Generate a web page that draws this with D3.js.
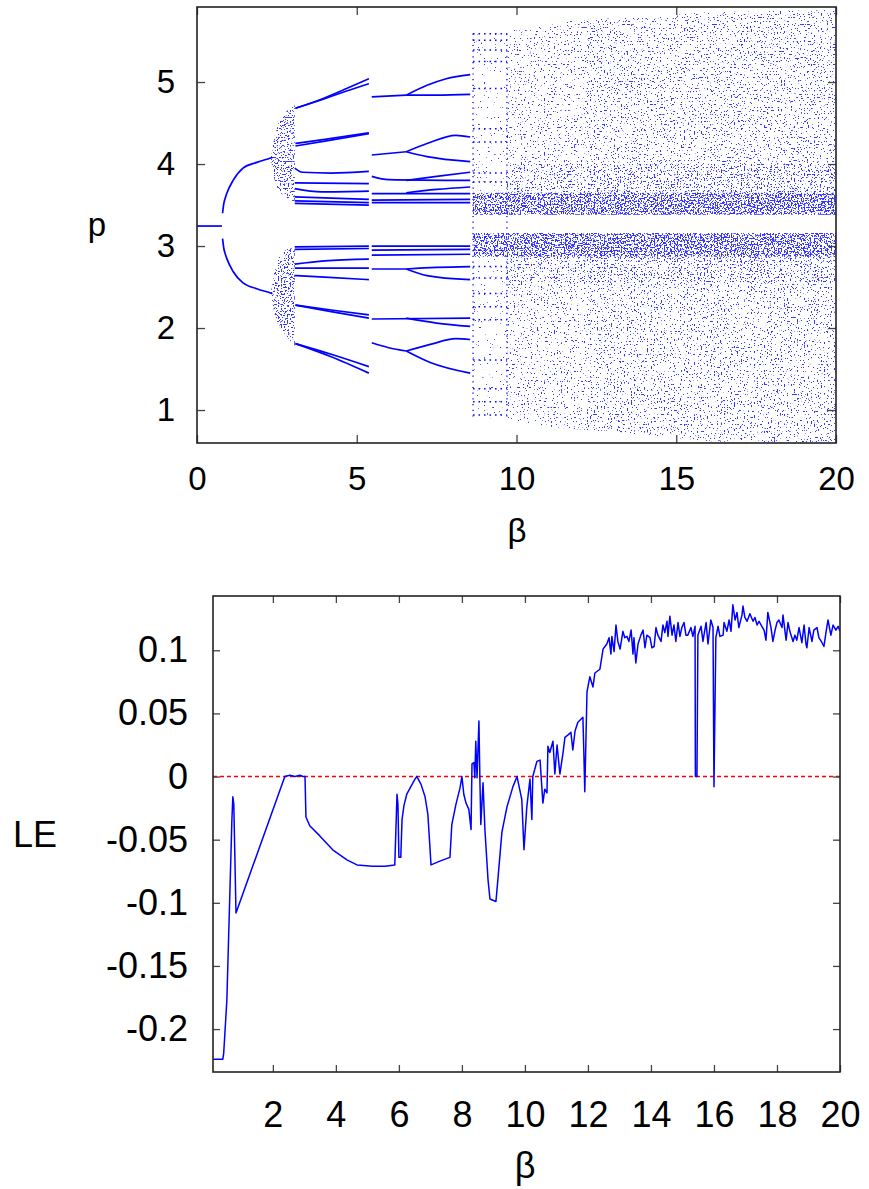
<!DOCTYPE html>
<html><head><meta charset="utf-8">
<script src="https://cdn.jsdelivr.net/npm/d3@7"></script>
<style>
body{margin:0;background:#fff;}
svg{display:block;font-family:"Liberation Sans",Arial,Helvetica,sans-serif;}
</style></head><body>
<svg id="chart" width="869" height="1189"></svg>
<script>
// ---------------- DATA ----------------
const bifXTicks = [0, 5, 10, 15, 20];
const bifYTicks = [1, 2, 3, 4, 5];
const leXTicks = [2, 4, 6, 8, 10, 12, 14, 16, 18, 20];
const leYTicks = [-0.2, -0.15, -0.1, -0.05, 0, 0.05, 0.1];
const leYTickLabels = ["-0.2", "-0.15", "-0.1", "-0.05", "0", "0.05", "0.1"];

// periodic branches of the bifurcation diagram: [beta, p]
const branches = [
  [[0,3.244],[0.78,3.244]],
  [[0.80,3.40],[0.84,3.52],[0.88,3.58],[0.94,3.65],[1.13,3.80],[1.44,3.95],[1.87,4.02],[2.28,4.07],[2.36,4.08]],
  [[0.80,3.09],[0.84,2.97],[0.88,2.91],[0.94,2.84],[1.13,2.69],[1.44,2.55],[1.87,2.48],[2.28,2.43],[2.36,2.42]],
  [[3.08,4.68],[3.95,4.80],[4.68,4.92],[5.38,5.04]],
  [[3.08,4.68],[3.95,4.79],[4.68,4.89],[5.38,4.98]],
  [[3.08,4.25],[4.0,4.30],[5.38,4.38]],
  [[3.08,4.22],[4.0,4.28],[5.38,4.37]],
  [[3.06,3.95],[3.3,3.90],[4.2,3.89],[5.38,3.91]],
  [[3.06,3.77],[5.38,3.76]],
  [[3.06,3.70],[3.9,3.66],[5.38,3.67]],
  [[3.06,3.60],[5.38,3.57]],
  [[3.06,3.55],[5.38,3.53]],
  [[3.06,3.52],[5.38,3.50]],
  [[3.06,2.99],[5.38,3.00]],
  [[3.06,2.96],[5.38,2.97]],
  [[3.06,2.78],[4.0,2.82],[5.38,2.84]],
  [[3.06,2.73],[5.38,2.73]],
  [[3.06,2.64],[4.0,2.62],[5.38,2.59]],
  [[3.08,2.28],[4.2,2.22],[5.38,2.16]],
  [[3.08,2.28],[4.2,2.20],[5.38,2.12]],
  [[3.08,1.81],[4.2,1.68],[5.38,1.53]],
  [[3.08,1.81],[4.2,1.65],[5.38,1.45]],
  [[5.47,4.82],[6.55,4.84]],
  [[6.55,4.84],[7.2,4.96],[7.8,5.04],[8.55,5.09]],
  [[6.55,4.84],[7.5,4.84],[8.55,4.85]],
  [[5.47,4.11],[6.55,4.15]],
  [[6.55,4.15],[7.2,4.25],[8.1,4.35],[8.55,4.33]],
  [[6.55,4.15],[7.2,4.09],[8.55,4.03]],
  [[5.47,3.85],[6.0,3.81],[8.55,3.80]],
  [[6.55,3.80],[7.5,3.85],[8.55,3.90]],
  [[5.47,3.64],[8.55,3.64]],
  [[6.55,3.65],[7.5,3.69],[8.55,3.72]],
  [[5.47,3.56],[8.55,3.57]],
  [[5.47,3.53],[8.55,3.53]],
  [[5.47,3.00],[8.55,3.00]],
  [[5.47,2.95],[8.55,2.96]],
  [[5.47,2.89],[8.55,2.90]],
  [[5.47,2.72],[6.55,2.72]],
  [[6.55,2.72],[7.5,2.74],[8.55,2.75]],
  [[6.55,2.72],[7.2,2.64],[8.55,2.59]],
  [[5.47,2.11],[8.55,2.12]],
  [[6.55,2.12],[7.5,2.06],[8.55,2.02]],
  [[5.47,1.82],[6.0,1.76],[6.55,1.72]],
  [[6.55,1.72],[7.3,1.80],[8.1,1.87],[8.55,1.86]],
  [[6.55,1.72],[7.3,1.58],[8.55,1.45]]
];

// chaotic regions: upper and lower edges [beta, p] and the share of the area covered by points
const clouds = [
  {density:0.25, top:[[2.32,4.09],[2.42,4.33],[2.55,4.5],[2.8,4.65],[3.06,4.72]], bottom:[[2.32,4.04],[2.42,3.82],[2.55,3.67],[2.8,3.58],[3.06,3.54]]},
  {density:0.25, top:[[2.32,2.45],[2.42,2.68],[2.55,2.86],[2.8,2.96],[3.06,2.98]], bottom:[[2.32,2.40],[2.42,2.18],[2.55,2.03],[2.8,1.9],[3.06,1.78]]},
  {density:0.03, top:[[8.64,5.6],[9.7,5.62]], bottom:[[8.64,3.38],[9.7,3.38]]},
  {density:0.03, top:[[8.64,3.16],[9.7,3.16]], bottom:[[8.64,0.92],[9.7,0.88]]},
  {density:0.07, top:[[9.7,5.62],[10.6,5.68],[11,5.72],[12.2,5.76]], bottom:[[9.7,3.38],[12.2,3.38]]},
  {density:0.07, top:[[9.7,3.16],[12.2,3.16]], bottom:[[9.7,0.88],[10.6,0.83],[11,0.8],[12.2,0.75]]},
  {density:0.10, top:[[12.2,5.76],[14,5.8],[16,5.85],[20,5.88]], bottom:[[12.2,3.38],[20,3.38]]},
  {density:0.10, top:[[12.2,3.16],[20,3.16]], bottom:[[12.2,0.75],[14,0.7],[16,0.62],[18,0.6],[20,0.6]]},
  {density:0.40, top:[[8.64,3.65],[20,3.65]], bottom:[[8.64,3.38],[20,3.38]]},
  {density:0.40, top:[[8.64,3.16],[20,3.16]], bottom:[[8.64,2.87],[20,2.87]]},
  {density:0.08, top:[[9.7,4.0],[20,4.0]], bottom:[[9.7,3.65],[20,3.65]]},
  {density:0.08, top:[[9.7,2.87],[20,2.87]], bottom:[[9.7,2.55],[20,2.55]]}
];

// periodic window (beta 8.64 - 9.70): orbit values p
const windowSpan = [8.64, 9.70];
const windowLines = [5.59,5.51,5.39,5.25,4.92,4.43,4.27,3.89,3.78,3.60,3.44,3.11,2.95,2.75,2.61,2.42,2.26,2.10,1.61,1.26,1.10,0.94];
const windowEdgeRange = [0.92, 5.6];

// Lyapunov exponent: [beta, LE]
const lyapunov = [
[0.10,-0.224],[0.41,-0.224],[0.44,-0.219],[0.54,-0.177],[0.63,-0.097],[0.70,-0.034],[0.73,-0.016],[0.76,-0.022],[0.83,-0.108],
[2.38,0.000],[2.54,0.001],[2.70,0.000],[2.86,0.001],[2.95,0.000],[3.02,0.000],[3.05,-0.032],[3.17,-0.039],[3.49,-0.047],
[3.90,-0.058],[4.35,-0.066],[4.67,-0.070],[5.17,-0.071],[5.56,-0.071],[5.87,-0.070],[5.94,-0.014],[5.97,-0.022],[6.00,-0.064],
[6.06,-0.064],[6.10,-0.034],[6.16,-0.023],[6.25,-0.014],[6.38,-0.008],[6.51,-0.002],[6.57,0.000],[6.70,-0.006],[6.83,-0.016],
[6.92,-0.030],[7.02,-0.070],[7.30,-0.067],[7.62,-0.064],[7.68,-0.038],[7.81,-0.022],[7.94,-0.009],[8.00,0.000],[8.06,-0.014],
[8.13,-0.021],[8.22,-0.026],[8.29,-0.042],[8.32,0.010],[8.38,0.011],[8.41,-0.001],[8.44,0.028],[8.48,-0.001],[8.54,0.044],
[8.57,-0.001],[8.60,-0.038],[8.67,-0.005],[8.73,-0.042],[8.83,-0.082],[8.89,-0.097],[9.08,-0.099],[9.14,-0.082],[9.27,-0.044],
[9.43,-0.024],[9.62,-0.008],[9.75,0.000],[9.90,-0.018],[9.97,-0.058],[10.06,-0.024],[10.16,-0.002],[10.22,-0.034],[10.25,0.000],
[10.38,0.012],[10.48,0.013],[10.57,-0.021],[10.63,-0.010],[10.70,-0.013],[10.73,0.024],[10.79,0.019],[10.89,0.028],[10.95,0.002],
[11.02,0.025],[11.11,0.002],[11.21,0.019],[11.27,0.031],[11.37,0.033],[11.46,0.035],[11.52,0.021],[11.59,0.036],[11.68,0.043],
[11.84,0.047],[11.87,0.019],[11.90,-0.012],[11.97,0.067],[12.06,0.079],[12.16,0.071],[12.22,0.082],[12.38,0.085],[12.48,0.101],
[12.54,0.103],[12.60,0.105],[12.67,0.110],[12.73,0.097],[12.76,0.111],[12.83,0.099],[12.89,0.120],[12.95,0.107],[13.02,0.101],
[13.11,0.115],[13.17,0.110],[13.24,0.111],[13.30,0.107],[13.37,0.116],[13.43,0.097],[13.46,0.110],[13.52,0.090],[13.59,0.105],
[13.68,0.112],[13.75,0.116],[13.81,0.102],[13.87,0.112],[13.97,0.110],[14.03,0.102],[14.10,0.103],[14.16,0.118],[14.22,0.112],
[14.32,0.107],[14.38,0.120],[14.44,0.114],[14.51,0.123],[14.54,0.111],[14.60,0.127],[14.67,0.112],[14.73,0.120],[14.79,0.107],
[14.86,0.122],[14.92,0.111],[14.98,0.118],[15.05,0.122],[15.11,0.112],[15.17,0.112],[15.27,0.118],[15.33,0.111],[15.40,0.119],
[15.41,0.000],[15.46,0.000],[15.49,0.112],[15.59,0.119],[15.65,0.107],[15.75,0.122],[15.81,0.105],[15.90,0.124],[15.97,0.118],
[16.00,-0.008],[16.06,0.110],[16.13,0.119],[16.19,0.111],[16.29,0.112],[16.32,0.122],[16.41,0.115],[16.48,0.124],[16.54,0.115],
[16.60,0.136],[16.67,0.124],[16.73,0.130],[16.79,0.118],[16.89,0.128],[16.92,0.135],[16.98,0.126],[17.05,0.123],[17.14,0.129],
[17.24,0.123],[17.30,0.126],[17.37,0.120],[17.43,0.123],[17.52,0.119],[17.59,0.116],[17.65,0.108],[17.71,0.130],[17.81,0.118],
[17.87,0.107],[17.94,0.116],[18.00,0.122],[18.06,0.124],[18.16,0.118],[18.19,0.128],[18.29,0.108],[18.35,0.122],[18.41,0.115],
[18.51,0.107],[18.57,0.112],[18.63,0.108],[18.70,0.118],[18.79,0.106],[18.86,0.120],[18.92,0.105],[18.95,0.102],[19.02,0.118],
[19.11,0.107],[19.17,0.116],[19.27,0.118],[19.33,0.110],[19.43,0.106],[19.49,0.103],[19.56,0.115],[19.62,0.124],[19.71,0.112],
[19.78,0.120],[19.87,0.116],[19.94,0.119],[20.00,0.115]
];

// ---------------- DRAWING ----------------
const BLUE = "#0000ff";
const DOT = "#3535ff";
const svg = d3.select("#chart");
const defs = svg.append("defs");

const tx = d3.scaleLinear().domain([0, 20]).range([197, 836]);
const ty = d3.scaleLinear().domain([0.598, 5.915]).range([443, 7]);
const lx = d3.scaleLinear().domain([0.1, 20]).range([213, 840]);
const ly = d3.scaleLinear().domain([-0.234, 0.143]).range([1072, 596]);

defs.append("clipPath").attr("id", "clipTop").append("rect")
  .attr("x", tx(0)).attr("y", ty(5.915)).attr("width", tx(20) - tx(0)).attr("height", ty(0.598) - ty(5.915));
defs.append("clipPath").attr("id", "clipBot").append("rect")
  .attr("x", lx(0.1)).attr("y", ly(0.143)).attr("width", lx(20) - lx(0.1)).attr("height", ly(-0.234) - ly(0.143));

const thr = d3.scaleLinear().domain([0.03, 0.06, 0.13, 0.25, 0.45, 0.6]).range([0.70, 0.66, 0.61, 0.57, 0.51, 0.47]).clamp(true);

clouds.forEach((c, i) => {
  const f = defs.append("filter").attr("id", "spk" + i)
    .attr("filterUnits", "userSpaceOnUse").attr("x", 0).attr("y", 0).attr("width", 869).attr("height", 460)
    .attr("color-interpolation-filters", "sRGB");
  f.append("feTurbulence").attr("type", "fractalNoise").attr("baseFrequency", 0.7)
    .attr("numOctaves", 1).attr("seed", i * 11 + 5).attr("result", "n");
  f.append("feColorMatrix").attr("in", "n").attr("type", "matrix")
    .attr("values", "0 0 0 0 0  0 0 0 0 0  0 0 0 0 0  1 0 0 0 0").attr("result", "na");
  const t = thr(c.density);
  f.append("feComponentTransfer").attr("in", "na").attr("result", "th")
    .append("feFuncA").attr("type", "linear").attr("slope", 30).attr("intercept", -30 * t);
  f.append("feFlood").attr("flood-color", DOT).attr("result", "col");
  f.append("feComposite").attr("in", "col").attr("in2", "th").attr("operator", "in").attr("result", "dots");
  f.append("feComposite").attr("in", "dots").attr("in2", "SourceAlpha").attr("operator", "in");
});

const topG = svg.append("g").attr("clip-path", "url(#clipTop)");
const area = d3.line().x(d => tx(d[0])).y(d => ty(d[1]));

topG.selectAll("path.cloud").data(clouds).join("path").attr("class", "cloud")
  .attr("d", c => area(c.top.concat(c.bottom.slice().reverse())) + "Z")
  .attr("fill", BLUE).attr("stroke", "none")
  .attr("filter", (c, i) => "url(#spk" + i + ")");

topG.selectAll("line.win").data(windowLines).join("line").attr("class", "win")
  .attr("x1", tx(windowSpan[0])).attr("x2", tx(windowSpan[1]))
  .attr("y1", d => ty(d)).attr("y2", d => ty(d))
  .attr("stroke", BLUE).attr("stroke-width", 1.5).attr("stroke-dasharray", "1.5,4");
topG.selectAll("line.wedge").data(windowSpan).join("line").attr("class", "wedge")
  .attr("x1", d => tx(d)).attr("x2", d => tx(d))
  .attr("y1", ty(windowEdgeRange[0])).attr("y2", ty(windowEdgeRange[1]))
  .attr("stroke", BLUE).attr("stroke-width", 1.3).attr("stroke-dasharray", "1.2,4.5");

const bline = d3.line().x(d => tx(d[0])).y(d => ty(d[1])).curve(d3.curveMonotoneX);
topG.selectAll("path.branch").data(branches).join("path").attr("class", "branch")
  .attr("d", bline).attr("fill", "none").attr("stroke", BLUE).attr("stroke-width", 1.7);

function styleAxis(g, fs) {
  g.select(".domain").remove();
  g.selectAll(".tick line").attr("stroke", "#444").attr("stroke-width", 1.3);
  g.selectAll(".tick text").attr("fill", "#000").attr("font-size", fs)
    .attr("font-family", '"Liberation Sans",Arial,Helvetica,sans-serif');
}
const TK = 8;
const fmtInt = d3.format("d");
svg.append("g").attr("transform", `translate(0,${ty(0.598)})`)
  .call(d3.axisBottom(tx).tickValues(bifXTicks).tickSize(-TK).tickSizeOuter(0).tickPadding(24).tickFormat(fmtInt))
  .call(g => styleAxis(g, 33));
svg.append("g").attr("transform", `translate(0,${ty(5.915)})`)
  .call(d3.axisTop(tx).tickValues(bifXTicks).tickSize(-TK).tickSizeOuter(0).tickFormat(""))
  .call(g => styleAxis(g, 33));
svg.append("g").attr("transform", `translate(${tx(0)},0)`)
  .call(d3.axisLeft(ty).tickValues(bifYTicks).tickSize(-TK).tickSizeOuter(0).tickPadding(22).tickFormat(fmtInt))
  .call(g => styleAxis(g, 33));
svg.append("g").attr("transform", `translate(${tx(20)},0)`)
  .call(d3.axisRight(ty).tickValues(bifYTicks).tickSize(-TK).tickSizeOuter(0).tickFormat(""))
  .call(g => styleAxis(g, 33));
svg.append("rect").attr("x", tx(0)).attr("y", ty(5.915)).attr("width", tx(20) - tx(0)).attr("height", ty(0.598) - ty(5.915))
  .attr("fill", "none").attr("stroke", "#222").attr("stroke-width", 1.6);

svg.append("text").attr("x", 97).attr("y", 236).attr("text-anchor", "middle").attr("font-size", 33).text("p");
svg.append("text").attr("x", 517).attr("y", 542).attr("text-anchor", "middle").attr("font-size", 33).text("β");

const botG = svg.append("g").attr("clip-path", "url(#clipBot)");
botG.append("line").attr("x1", lx(0.1)).attr("x2", lx(20)).attr("y1", ly(0)).attr("y2", ly(0))
  .attr("stroke", "#ff0000").attr("stroke-width", 1.4).attr("stroke-dasharray", "4,3");
const leLine = d3.line().x(d => lx(d[0])).y(d => ly(d[1]));
botG.append("path").datum(lyapunov).attr("d", leLine).attr("fill", "none")
  .attr("stroke", BLUE).attr("stroke-width", 1.5).attr("stroke-linejoin", "round");

svg.append("g").attr("transform", `translate(0,${ly(-0.234)})`)
  .call(d3.axisBottom(lx).tickValues(leXTicks).tickSize(-7).tickSizeOuter(0).tickPadding(29).tickFormat(fmtInt))
  .call(g => styleAxis(g, 36));
svg.append("g").attr("transform", `translate(0,${ly(0.143)})`)
  .call(d3.axisTop(lx).tickValues(leXTicks).tickSize(-7).tickSizeOuter(0).tickFormat(""))
  .call(g => styleAxis(g, 36));
svg.append("g").attr("transform", `translate(${lx(0.1)},0)`)
  .call(d3.axisLeft(ly).tickValues(leYTicks).tickSize(-7).tickSizeOuter(0).tickPadding(25)
    .tickFormat((d, i) => leYTickLabels[i]))
  .call(g => styleAxis(g, 36));
svg.append("g").attr("transform", `translate(${lx(20)},0)`)
  .call(d3.axisRight(ly).tickValues(leYTicks).tickSize(-7).tickSizeOuter(0).tickFormat(""))
  .call(g => styleAxis(g, 36));
svg.append("rect").attr("x", lx(0.1)).attr("y", ly(0.143)).attr("width", lx(20) - lx(0.1)).attr("height", ly(-0.234) - ly(0.143))
  .attr("fill", "none").attr("stroke", "#222").attr("stroke-width", 1.6);

svg.append("text").attr("x", 35).attr("y", 847).attr("text-anchor", "middle").attr("font-size", 36).text("LE");
svg.append("text").attr("x", 525).attr("y", 1178).attr("text-anchor", "middle").attr("font-size", 36).text("β");
</script>
</body></html>
